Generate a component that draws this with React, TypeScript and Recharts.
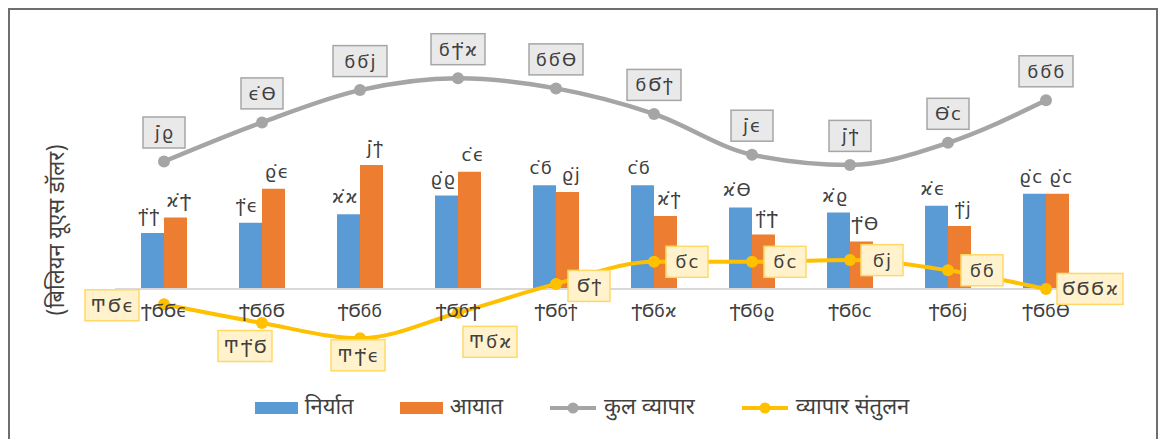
import React from 'react';
import { ComposedChart, Bar, Line, XAxis, YAxis, ReferenceLine, LabelList } from 'recharts';

// ---- data ----
const years = ['ϮϬϬϵ', 'ϮϬϭϬ', 'ϮϬϭϭ', 'ϮϬϭϮ', 'ϮϬϭϯ', 'ϮϬϭϰ', 'ϮϬϭϱ', 'ϮϬϭϲ', 'ϮϬϭϳ', 'ϮϬϭϴ'];
const exportValues = [3.3, 3.9, 4.4, 5.5, 6.1, 6.1, 4.8, 4.5, 4.9, 5.6];
const importValues = [4.2, 5.9, 7.3, 6.9, 5.7, 4.3, 3.2, 2.8, 3.7, 5.6];
const totalTrade = [7.5, 9.8, 11.7, 12.4, 11.8, 10.3, 7.9, 7.3, 8.6, 11.1];
const tradeBalance = [-0.9, -2.0, -2.9, -1.4, 0.3, 1.6, 1.6, 1.7, 1.1, 0.004];
const seriesNames = ['निर्यात', 'आयात', 'कुल व्यापार', 'व्यापार संतुलन'];
const yAxisTitle = '(बिलियन यूएस डॉलर)';

// label placement (box centre offset from point) for the balance series
const balanceLabelOffsets: [number, number][] = [
  [-52, 1], [-17, 23], [-2, 17], [32, 29], [33, 2], [33, 0], [33, 0], [32, 0], [34, 0], [44, 0],
];

const COLORS = {
  exp: '#5B9BD5',
  imp: '#ED7D31',
  total: '#A5A5A5',
  bal: '#FFC000',
  text: '#404040',
};

const LABEL_FONT = '"DejaVu Sans", "Noto Sans", sans-serif';
const DEVA_FONT = '"Noto Sans Devanagari", "Lohit Devanagari", "Noto Sans", sans-serif';

// formatting numbers into the glyphs used in the picture
const toGlyphs = (s: string) =>
  s
    .replace(/[0-9]/g, (d) => String.fromCharCode(0x3ec + Number(d)))
    .replace('.', '\u0358')
    .replace('-', '\u0372');
const fmt = (v: number) => {
  const r = Math.abs(v * 10 - Math.round(v * 10)) < 1e-9;
  return toGlyphs(r ? v.toFixed(1) : String(v));
};

const table = years.map((year, i) => ({
  year,
  exp: exportValues[i],
  imp: importValues[i],
  total: totalTrade[i],
  bal: tradeBalance[i],
  zero: 0,
}));

const visibleLen = (s: string) => s.replace(/\u0358/g, '').length;

const BoxLabel = (props: any, fill: string, stroke: string, offsets: (i: number) => [number, number]) => {
  const { x, y, value, index } = props;
  if (x == null || y == null) return null;
  const text = fmt(Number(value));
  const [dx, dy] = offsets(index);
  const w = visibleLen(text) * 12 + 18;
  const h = 31;
  const cx = x + dx;
  const cy = y + dy;
  return (
    <g>
      <rect x={cx - w / 2} y={cy - h / 2} width={w} height={h} fill={fill} stroke={stroke} strokeWidth={1.5} />
      <text
        x={cx + 1}
        y={cy}
        textAnchor="middle"
        dominantBaseline="central"
        fontFamily={LABEL_FONT}
        fontSize={18}
        letterSpacing={2}
        fill={COLORS.text}
      >
        {text}
      </text>
    </g>
  );
};

const YearLabel = (props: any) => {
  const { x, y, value } = props;
  if (x == null || y == null) return null;
  return (
    <text x={x} y={y + 28} textAnchor="middle" fontFamily={LABEL_FONT} fontSize={17.5} fill={COLORS.text}>
      {value}
    </text>
  );
};

const makeBarValueLabel = (shift: number) => (props: any) => {
  const { x, y, width, value } = props;
  if (x == null || y == null) return null;
  return (
    <text
      x={x + width / 2 + shift}
      y={y - 11}
      textAnchor="middle"
      fontFamily={LABEL_FONT}
      fontSize={18}
      letterSpacing={1.5}
      fill={COLORS.text}
    >
      {fmt(Number(value))}
    </text>
  );
};
const ExportValueLabel = makeBarValueLabel(-3);
const ImportValueLabel = makeBarValueLabel(4);

const legendItems = [
  { name: seriesNames[0], kind: 'rect', color: COLORS.exp },
  { name: seriesNames[1], kind: 'rect', color: COLORS.imp },
  { name: seriesNames[2], kind: 'line', color: COLORS.total },
  { name: seriesNames[3], kind: 'line', color: COLORS.bal },
];

export default function App() {
  return (
    <div style={{ position: 'absolute', left: 0, top: 0, width: 1160, height: 439, background: '#fff', overflow: 'hidden' }}>
      <div
        style={{
          position: 'absolute',
          left: 8,
          top: 8,
          width: 1146,
          height: 440,
          borderLeft: '2px solid #6e6e6e',
          borderTop: '2px solid #6e6e6e',
          borderRight: '2px solid #6e6e6e',
        }}
      />
      <div style={{ position: 'absolute', left: 0, top: 0 }}>
        <ComposedChart
          width={1160}
          height={439}
          data={table}
          margin={{ top: 17, right: 65, bottom: 48, left: 115 }}
          barGap={0}
          barCategoryGap={26}
        >
          <XAxis dataKey="year" hide />
          <YAxis hide domain={[-6, 16]} type="number" allowDataOverflow />
          <ReferenceLine y={0} stroke="#D9D9D9" strokeWidth={2} />
          <Bar dataKey="exp" fill={COLORS.exp} barSize={23} isAnimationActive={false}>
            <LabelList dataKey="exp" content={ExportValueLabel} />
          </Bar>
          <Bar dataKey="imp" fill={COLORS.imp} barSize={23} isAnimationActive={false}>
            <LabelList dataKey="imp" content={ImportValueLabel} />
          </Bar>
          <Line
            dataKey="zero"
            stroke="none"
            dot={false}
            activeDot={false}
            legendType="none"
            isAnimationActive={false}
          >
            <LabelList dataKey="year" content={YearLabel} />
          </Line>
          <Line
            dataKey="total"
            type="monotone"
            stroke={COLORS.total}
            strokeWidth={4.5}
            dot={{ r: 6, fill: COLORS.total, stroke: COLORS.total, strokeWidth: 0 }}
            activeDot={false}
            isAnimationActive={false}
          >
            <LabelList
              dataKey="total"
              content={(p: any) => BoxLabel(p, '#E9E9E9', '#A6A6A6', () => [0, -29])}
            />
          </Line>
          <Line
            dataKey="bal"
            type="monotone"
            stroke={COLORS.bal}
            strokeWidth={4}
            dot={{ r: 6, fill: COLORS.bal, stroke: COLORS.bal, strokeWidth: 0 }}
            activeDot={false}
            isAnimationActive={false}
          >
            <LabelList
              dataKey="bal"
              content={(p: any) => BoxLabel(p, '#FFF2CC', '#FFD966', (i) => balanceLabelOffsets[i] || [30, 0])}
            />
          </Line>
        </ComposedChart>
      </div>
      <div
        style={{
          position: 'absolute',
          left: 58,
          top: 230,
          transform: 'translate(-50%, -50%) rotate(-90deg)',
          whiteSpace: 'nowrap',
          fontFamily: DEVA_FONT,
          fontSize: 22,
          color: COLORS.text,
        }}
      >
        {yAxisTitle}
      </div>
      <div
        style={{
          position: 'absolute',
          left: 0,
          top: 392,
          width: 1164,
          height: 32,
          display: 'flex',
          justifyContent: 'center',
          alignItems: 'center',
          gap: 46,
          fontFamily: DEVA_FONT,
          fontSize: 22,
          color: COLORS.text,
        }}
      >
        {legendItems.map((it) => (
          <div key={it.name} style={{ display: 'flex', alignItems: 'center' }}>
            {it.kind === 'rect' ? (
              <div style={{ width: 43, height: 12, background: it.color, marginRight: 7 }} />
            ) : (
              <svg width={48} height={14} style={{ marginRight: 7 }}>
                <line x1={1} y1={7} x2={47} y2={7} stroke={it.color} strokeWidth={4} />
                <circle cx={24} cy={7} r={5.5} fill={it.color} />
              </svg>
            )}
            <span>{it.name}</span>
          </div>
        ))}
      </div>
    </div>
  );
}
